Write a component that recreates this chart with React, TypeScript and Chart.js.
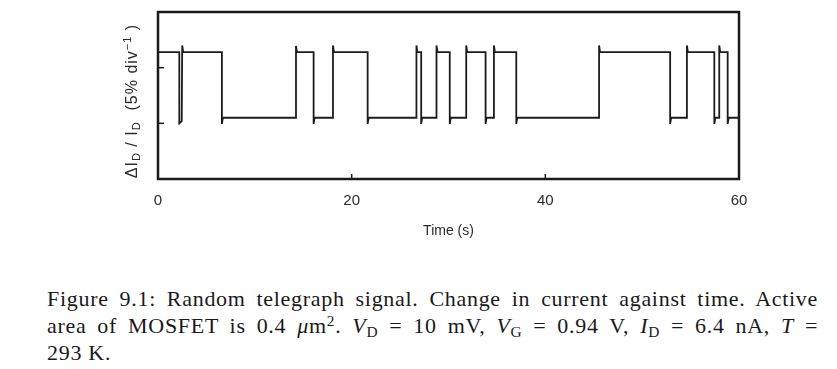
import React, { useEffect, useRef } from "react";
import { Chart, registerables } from "chart.js";

Chart.register(...registerables);

// Time (s) and signal level (% of I_D), including small overshoots at each switch
const times = [
  0, 2.2, 2.2, 2.45, 2.5, 2.6,
  6.6, 6.6, 6.7,
  14.25, 14.25, 14.35,
  16.07, 16.07, 16.17,
  18.07, 18.07, 18.17,
  21.65, 21.65, 21.75,
  26.69, 26.69, 26.79,
  27.18, 27.18, 27.28,
  28.76, 28.76, 28.86,
  30.13, 30.13, 30.23,
  31.83, 31.83, 31.93,
  33.83, 33.83, 33.93,
  34.69, 34.69, 34.79,
  37.0, 37.0, 37.1,
  45.55, 45.55, 45.65,
  52.89, 52.89, 52.99,
  54.62, 54.62, 54.72,
  57.45, 57.45, 57.55,
  57.96, 57.96, 58.06,
  58.83, 58.83, 58.93,
  60,
];
const levels = [
  11.4, 11.4, 5.0, 5.2, 12.0, 11.4,
  11.4, 4.95, 5.5,
  5.5, 11.95, 11.4,
  11.4, 4.95, 5.5,
  5.5, 12.0, 11.4,
  11.4, 4.95, 5.5,
  5.5, 12.0, 11.4,
  11.4, 4.95, 5.5,
  5.5, 12.0, 11.4,
  11.4, 4.95, 5.5,
  5.5, 12.0, 11.4,
  11.4, 4.95, 5.5,
  5.5, 12.0, 11.4,
  11.4, 4.95, 5.5,
  5.5, 12.0, 11.4,
  11.4, 4.95, 5.5,
  5.5, 12.0, 11.4,
  11.4, 4.95, 5.5,
  5.5, 12.0, 11.4,
  11.4, 4.95, 5.5,
  5.5,
];

const xTickLabels = [0, 20, 40, 60];
const xInnerTicks = [20, 40];
const yInnerTicks = [5, 10];
const xTitle = "Time (s)";

const framePlugin = {
  id: "frame",
  afterDatasetsDraw(chart: any) {
    const { ctx, chartArea, scales } = chart;
    const { left, right, top, bottom } = chartArea;
    const x = scales.x;
    const y = scales.y;
    ctx.save();
    ctx.strokeStyle = "#1a1a1a";
    ctx.lineWidth = 2.5;
    ctx.strokeRect(left, top, right - left, bottom - top);
    ctx.lineWidth = 1.5;
    for (const t of xInnerTicks) {
      const px = x.getPixelForValue(t);
      ctx.beginPath();
      ctx.moveTo(px, bottom);
      ctx.lineTo(px, bottom - 5);
      ctx.stroke();
    }
    for (const v of yInnerTicks) {
      const py = y.getPixelForValue(v);
      ctx.beginPath();
      ctx.moveTo(left, py);
      ctx.lineTo(left + 6, py);
      ctx.stroke();
    }
    // x title
    ctx.fillStyle = "#2a2a2a";
    ctx.font = '14px "Liberation Sans"';
    ctx.textAlign = "center";
    ctx.textBaseline = "middle";
    ctx.fillText(xTitle, (left + right) / 2, 231);

    // y title (rotated, with sub/superscripts)
    const parts = [
      { t: "ΔI", s: 16, dy: 0 },
      { t: "D", s: 11, dy: 3 },
      { t: " / I", s: 16, dy: 0 },
      { t: "D", s: 11, dy: 3 },
      { t: "  (5% div", s: 16, dy: 0 },
      { t: "−1", s: 11, dy: -6 },
      { t: " )", s: 16, dy: 0 },
    ];
    ctx.textAlign = "left";
    ctx.textBaseline = "alphabetic";
    (ctx as any).letterSpacing = "1px";
    let total = 0;
    for (const p of parts) {
      ctx.font = `${p.s}px "Liberation Sans"`;
      total += ctx.measureText(p.t).width;
    }
    ctx.translate(137, 101);
    ctx.rotate(-Math.PI / 2);
    let cx = -total / 2;
    for (const p of parts) {
      ctx.font = `${p.s}px "Liberation Sans"`;
      ctx.fillText(p.t, cx, p.dy);
      cx += ctx.measureText(p.t).width;
    }
    ctx.restore();
  },
};

export default function App() {
  const ref = useRef<HTMLCanvasElement>(null);
  useEffect(() => {
    if (!ref.current) return;
    const data = times.map((t, i) => ({ x: t, y: levels[i] }));
    const chart = new Chart(ref.current, {
      type: "line",
      data: {
        datasets: [
          {
            data,
            borderColor: "#1c1c1c",
            borderWidth: 1.8,
            pointRadius: 0,
            tension: 0,
            fill: false,
          },
        ],
      },
      options: {
        animation: false,
        responsive: false,
        devicePixelRatio: 1,
        layout: { padding: { left: 158, right: 98, top: 12, bottom: 0 } },
        plugins: { legend: { display: false }, tooltip: { enabled: false } },
        scales: {
          x: {
            type: "linear",
            min: 0,
            max: 60,
            afterFit: (s: any) => {
              s.height = 81;
            },
            afterBuildTicks: (s: any) => {
              s.ticks = xTickLabels.map((v) => ({ value: v }));
            },
            grid: { display: false, drawTicks: false },
            border: { display: false },
            ticks: {
              padding: 13,
              color: "#2a2a2a",
              font: { family: "Liberation Sans", size: 15 },
              maxRotation: 0,
            },
          },
          y: {
            type: "linear",
            min: 0,
            max: 15,
            display: false,
          },
        },
      },
      plugins: [framePlugin],
    });
    return () => chart.destroy();
  }, []);

  const line: React.CSSProperties = {
    textAlign: "justify",
    textAlignLast: "justify" as any,
  };
  const sub: React.CSSProperties = { fontSize: "0.7em", verticalAlign: "-0.25em", lineHeight: 0, fontStyle: "normal" };
  const sup: React.CSSProperties = { fontSize: "0.7em", verticalAlign: "0.45em", lineHeight: 0 };

  return (
    <div style={{ position: "fixed", left: 0, top: 0, width: 837, height: 369, background: "#fff", overflow: "hidden" }}>
      <canvas ref={ref} width={837} height={260} style={{ position: "absolute", left: 0, top: 0 }} />
      <div
        style={{
          position: "absolute",
          left: 47,
          top: 285,
          width: 771,
          fontFamily: '"Liberation Serif", serif',
          fontSize: 22,
          letterSpacing: "0.7px",
          lineHeight: "27px",
          color: "#1a1a1a",
        }}
      >
        <div style={line}>
          Figure 9.1: Random telegraph signal. Change in current against time. Active
        </div>
        <div style={line}>
          area of MOSFET is 0.4 <i>μ</i>m<span style={sup}>2</span>. <i>V</i>
          <span style={sub}>D</span> = 10 mV, <i>V</i>
          <span style={sub}>G</span> = 0.94 V, <i>I</i>
          <span style={sub}>D</span> = 6.4 nA, <i>T</i> =
        </div>
        <div>293 K.</div>
      </div>
    </div>
  );
}
